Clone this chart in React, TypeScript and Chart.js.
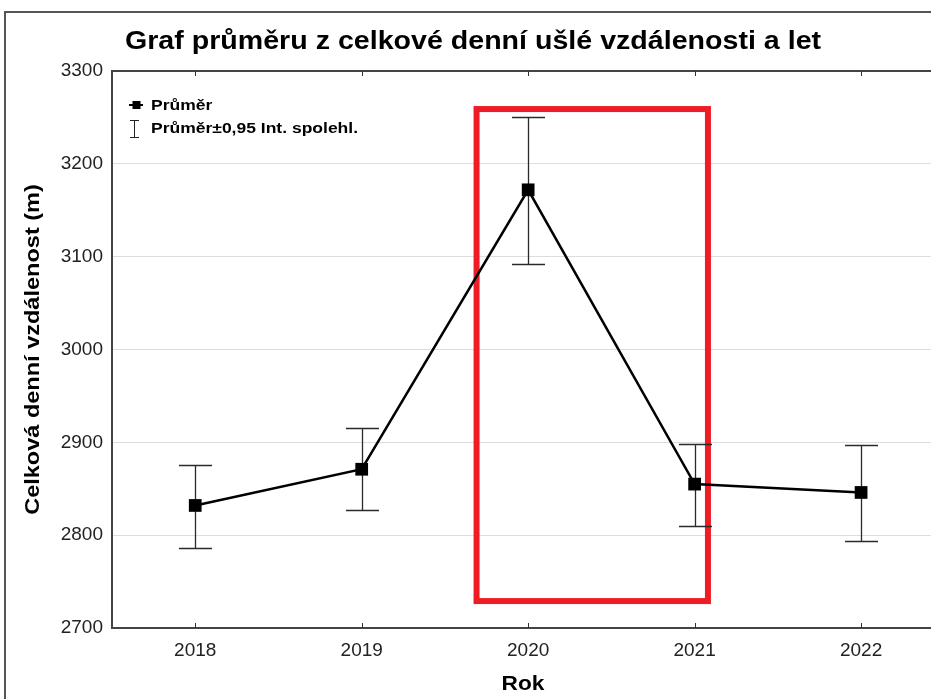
import React, { useEffect, useRef } from "react";
import { Chart, registerables } from "chart.js";
Chart.register(...registerables);

const years = [2018, 2019, 2020, 2021, 2022];
const means = [2832, 2871, 3172, 2855, 2846];
const ciUpper = [2876, 2915, 3250, 2898, 2897];
const ciLower = [2786, 2827, 3092, 2810, 2794];
const yTicks = [2700, 2800, 2900, 3000, 3100, 3200, 3300];
const titleText = "Graf průměru z celkové denní ušlé vzdálenosti a let";
const xTitle = "Rok";
const yTitle = "Celková denní vzdálenost (m)";
const legendLabels = ["Průměr", "Průměr±0,95 Int. spolehl."];
const highlightX = [2019.69, 2021.08];
const highlightY = [2729, 3259];

const FONT = "'Liberation Sans', Arial, sans-serif";

function stretchText(ctx: any, text: string, x: number, y: number, font: string, sx: number, align: string) {
  ctx.save();
  ctx.font = font;
  ctx.textAlign = align;
  ctx.textBaseline = "middle";
  ctx.translate(x, y);
  ctx.scale(sx, 1);
  ctx.fillText(text, 0, 0);
  ctx.restore();
}

const noPadding = () => ({ left: 0, right: 0, top: 0, bottom: 0 });

const decor = {
  id: "decor",
  beforeDatasetsDraw(chart: any) {
    const { ctx, chartArea, scales } = chart;
    const x = scales.x;
    const y = scales.y;
    ctx.save();
    // top border
    ctx.strokeStyle = "#444";
    ctx.lineWidth = 2;
    ctx.beginPath();
    ctx.moveTo(chartArea.left - 1, chartArea.top);
    ctx.lineTo(chartArea.right, chartArea.top);
    ctx.stroke();
    // inner ticks top and bottom
    ctx.lineWidth = 1;
    ctx.strokeStyle = "#333";
    years.forEach((yr) => {
      const px = Math.round(x.getPixelForValue(yr)) + 0.5;
      ctx.beginPath();
      ctx.moveTo(px, chartArea.top);
      ctx.lineTo(px, chartArea.top + 5);
      ctx.moveTo(px, chartArea.bottom);
      ctx.lineTo(px, chartArea.bottom - 5);
      ctx.stroke();
    });
    // red highlight box
    ctx.strokeStyle = "#ee1c25";
    ctx.lineWidth = 6;
    const x0 = x.getPixelForValue(highlightX[0]);
    const x1 = x.getPixelForValue(highlightX[1]);
    const y0 = y.getPixelForValue(highlightY[1]);
    const y1 = y.getPixelForValue(highlightY[0]);
    ctx.strokeRect(x0, y0, x1 - x0, y1 - y0);
    // error bars
    ctx.strokeStyle = "#2a2a2a";
    ctx.lineWidth = 1.3;
    years.forEach((yr, i) => {
      const px = Math.round(x.getPixelForValue(yr)) + 0.5;
      const top = Math.round(y.getPixelForValue(ciUpper[i])) + 0.5;
      const bot = Math.round(y.getPixelForValue(ciLower[i])) + 0.5;
      ctx.beginPath();
      ctx.moveTo(px, top);
      ctx.lineTo(px, bot);
      ctx.moveTo(px - 16.5, top);
      ctx.lineTo(px + 16.5, top);
      ctx.moveTo(px - 16.5, bot);
      ctx.lineTo(px + 16.5, bot);
      ctx.stroke();
    });
    ctx.restore();
  },
  afterDraw(chart: any) {
    const { ctx, chartArea } = chart;
    ctx.save();
    // outer frame
    ctx.strokeStyle = "#555";
    ctx.lineWidth = 2;
    ctx.beginPath();
    ctx.moveTo(5, 699);
    ctx.lineTo(5, 12);
    ctx.lineTo(931, 12);
    ctx.stroke();
    ctx.fillStyle = "#000";
    // title
    stretchText(ctx, titleText, 473, 42, `bold 26px ${FONT}`, 1.1, "center");
    // x title
    stretchText(ctx, xTitle, 523, 684, `bold 21px ${FONT}`, 1.08, "center");
    // y title
    ctx.save();
    ctx.translate(33, (chartArea.top + chartArea.bottom) / 2);
    ctx.rotate(-Math.PI / 2);
    stretchText(ctx, yTitle, 0, 0, `bold 21px ${FONT}`, 1.12, "center");
    ctx.restore();
    // legend
    ctx.strokeStyle = "#000";
    ctx.lineWidth = 2;
    ctx.beginPath();
    ctx.moveTo(129, 105);
    ctx.lineTo(143, 105);
    ctx.stroke();
    ctx.fillRect(132.5, 101, 8, 8);
    stretchText(ctx, legendLabels[0], 151, 106, `bold 14px ${FONT}`, 1.25, "left");
    ctx.lineWidth = 1;
    ctx.strokeStyle = "#222";
    ctx.beginPath();
    ctx.moveTo(134.5, 120.5);
    ctx.lineTo(134.5, 137.5);
    ctx.moveTo(130, 120.5);
    ctx.lineTo(139, 120.5);
    ctx.moveTo(130, 137.5);
    ctx.lineTo(139, 137.5);
    ctx.stroke();
    stretchText(ctx, legendLabels[1], 151, 129, `bold 14px ${FONT}`, 1.25, "left");
    ctx.restore();
  },
};

export default function App() {
  const ref = useRef<HTMLCanvasElement>(null);
  useEffect(() => {
    if (!ref.current) return;
    const chart = new Chart(ref.current, {
      type: "line",
      data: {
        datasets: [
          {
            label: legendLabels[0],
            data: years.map((yr, i) => ({ x: yr, y: means[i] })),
            borderColor: "#000",
            borderWidth: 2.5,
            backgroundColor: "#000",
            pointStyle: "rect",
            pointRadius: 9,
            pointBackgroundColor: "#000",
            pointBorderWidth: 0,
            tension: 0,
          },
        ],
      },
      options: {
        animation: false,
        responsive: false,
        layout: { autoPadding: false, padding: { top: 71, left: 0, right: 0, bottom: 0 } },
        plugins: { legend: { display: false }, tooltip: { enabled: false }, title: { display: false } },
        scales: {
          x: {
            type: "linear",
            min: 2017.5,
            max: 2022.42,
            afterBuildTicks: (s: any) => {
              s.ticks = years.map((v) => ({ value: v }));
            },
            afterFit: (s: any) => {
              s.height = 71;
              s.paddingRight = 0;
              s.paddingLeft = 0;
              s.getPadding = noPadding;
            },
            grid: { display: false, drawTicks: false },
            border: { display: true, color: "#444", width: 2 },
            ticks: {
              padding: 11,
              color: "#222",
              font: { family: FONT, size: 19 },
              callback: (v: any) => String(v),
            },
          },
          y: {
            min: 2700,
            max: 3300,
            afterBuildTicks: (s: any) => {
              s.ticks = yTicks.map((v) => ({ value: v }));
            },
            afterFit: (s: any) => {
              s.width = 112;
              s.paddingTop = 0;
              s.paddingBottom = 0;
              s.getPadding = noPadding;
            },
            grid: { color: "#dddddd", lineWidth: 1, drawTicks: false },
            border: { display: true, color: "#444", width: 2 },
            ticks: {
              padding: 9,
              color: "#222",
              font: { family: FONT, size: 19 },
              callback: (v: any) => String(v),
            },
          },
        },
      },
      plugins: [decor],
    });
    return () => chart.destroy();
  }, []);
  return (
    <div style={{ position: "fixed", left: 0, top: 0, width: 931, height: 699, background: "#fff" }}>
      <canvas ref={ref} width={931} height={699} />
    </div>
  );
}
